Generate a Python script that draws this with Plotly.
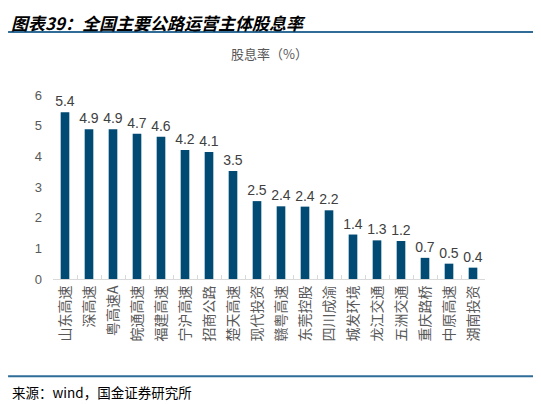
import plotly.graph_objects as go

# companies and dividend yield (%)
companies = ["山东高速", "深高速", "粤高速A", "皖通高速", "福建高速", "宁沪高速",
             "招商公路", "楚天高速", "现代投资", "赣粤高速", "东莞控股", "四川成渝",
             "城发环境", "龙江交通", "五洲交通", "重庆路桥", "中原高速", "湖南投资"]
dividend_yield = [5.44, 4.88, 4.88, 4.74, 4.64, 4.21, 4.14, 3.52, 2.54, 2.37,
                  2.36, 2.24, 1.45, 1.26, 1.24, 0.69, 0.50, 0.37]
y_ticks = [0, 1, 2, 3, 4, 5, 6]

BAR = "#004A74"
LINE = "#2F6C98"
CJK = "Noto Sans CJK SC"

fig = go.Figure(go.Bar(
    x=companies,
    y=dividend_yield,
    marker=dict(color=BAR, line=dict(width=0)),
    texttemplate="%{y:.1f}",
    textposition="outside",
    textfont=dict(family="Liberation Sans, Arial", size=14, color="#404040"),
    cliponaxis=False,
))

# page body has an 8px margin, so the figure is a bit smaller than the window
fig.update_layout(
    width=533, height=396,
    margin=dict(l=45, r=56, t=87, b=125),
    paper_bgcolor="white", plot_bgcolor="white",
    bargap=0.64,
    showlegend=False,
    font=dict(family=CJK, color="#595959"),
    uniformtext=dict(minsize=14, mode="show"),
)

fig.update_yaxes(
    range=[0, 6], tickvals=y_ticks, showgrid=False, zeroline=False,
    showline=False, ticks="", ticklabelstandoff=10,
    tickfont=dict(family="Liberation Sans, Arial", size=13, color="#595959"),
)
fig.update_xaxes(
    showline=True, linecolor="#D9D9D9", linewidth=1,
    ticks="inside", tickson="boundaries", ticklen=4, tickcolor="#D9D9D9",
    tickangle=-90, tickfont=dict(family=CJK, size=14, color="#595959"),
    showgrid=False,
)

# title, subtitle, source and the two rule lines (positions in paper units)
fig.add_annotation(text="<b><i>图表39：全国主要公路运营主体股息率</i></b>",
                   xref="paper", yref="paper", x=-0.1, y=1.47,
                   xanchor="left", yanchor="top", showarrow=False, borderpad=0,
                   font=dict(family=CJK, size=17, color="#000000"))
fig.add_annotation(text="股息率（%）", xref="paper", yref="paper",
                   x=0.5, y=1.223, xanchor="center", yanchor="middle",
                   showarrow=False, font=dict(family=CJK, size=13, color="#595959"))
fig.add_annotation(text="来源：wind，国金证券研究所", xref="paper", yref="paper",
                   x=-0.1, y=-0.612, xanchor="left", yanchor="middle",
                   showarrow=False, font=dict(family=CJK, size=13.5, color="#000000"))
fig.add_shape(type="line", xref="paper", yref="paper", x0=-0.104, x1=1.116,
              y0=1.342, y1=1.342, line=dict(color=LINE, width=2))
fig.add_shape(type="line", xref="paper", yref="paper", x0=-0.104, x1=1.116,
              y0=-0.528, y1=-0.528, line=dict(color=LINE, width=2))

fig.write_html("out.html")
